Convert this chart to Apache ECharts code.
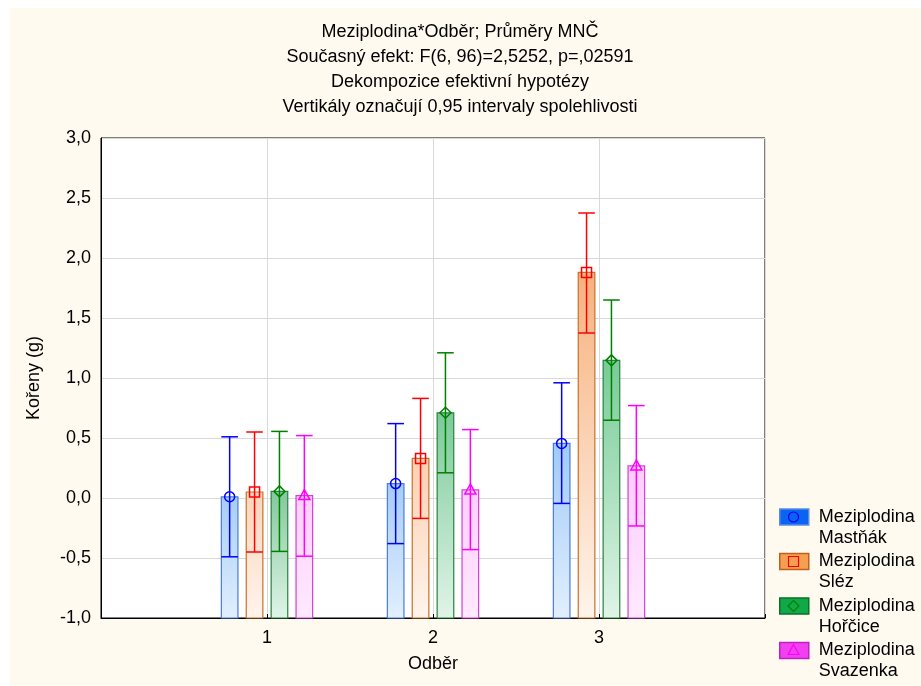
<!DOCTYPE html>
<html>
<head>
    <meta charset="utf-8">
    <title>Meziplodina*Odběr</title>
    <script src="https://cdn.jsdelivr.net/npm/echarts@6/dist/echarts.min.js"></script>
    <style>
        html, body {margin: 0; background: #ffffff;}
        #chart {position: absolute; left: 10px; top: 8px; width: 911px; height: 678px; background: #fffaf0;}
    </style>
</head>
<body>
<div id="chart"></div>
<script>
    // odběr 1..3, osa x jde od 0 do 4
    var odbery = [1, 2, 3];
    var xTickLabels = ['', '1', '2', '3', ''];
    var yTickLabels = ['-1,0', '-0,5', '0,0', '0,5', '1,0', '1,5', '2,0', '2,5', '3,0'];

    var seriesNames = ['Meziplodina\nMastňák', 'Meziplodina\nSléz', 'Meziplodina\nHořčice', 'Meziplodina\nSvazenka'];

    // průměry a meze 0,95 intervalu spolehlivosti
    var mastnakMean = [0.01, 0.12, 0.455];
    var mastnakLow = [-0.49, -0.38, -0.045];
    var mastnakHigh = [0.51, 0.62, 0.96];

    var slezMean = [0.05, 0.33, 1.88];
    var slezLow = [-0.45, -0.17, 1.375];
    var slezHigh = [0.55, 0.83, 2.375];

    var horciceMean = [0.055, 0.71, 1.147];
    var horciceLow = [-0.445, 0.21, 0.648];
    var horciceHigh = [0.555, 1.21, 1.65];

    var svazenkaMean = [0.02, 0.067, 0.267];
    var svazenkaLow = [-0.485, -0.43, -0.233];
    var svazenkaHigh = [0.52, 0.57, 0.77];

    var means = [mastnakMean, slezMean, horciceMean, svazenkaMean];
    var lows = [mastnakLow, slezLow, horciceLow, svazenkaLow];
    var highs = [mastnakHigh, slezHigh, horciceHigh, svazenkaHigh];

    // topLow = barva vršku sloupce při výšce 0, topHigh při výšce 2
    var styles = [
        {offset: -0.225, line: '#0000ff', border: '#4a7cd8', topLow: [166, 205, 247], topHigh: [146, 194, 248], bottom: '#e2efff', legend: '#0a64f0', legendBorder: '#5a8ae8', marker: 'circle'},
        {offset: -0.075, line: '#ff0000', border: '#c8702c', topLow: [252, 214, 188], topHigh: [246, 176, 122], bottom: '#fff4ec', legend: '#f4a050', legendBorder: '#c0601c', marker: 'square'},
        {offset: 0.075, line: '#008000', border: '#2a8040', topLow: [132, 200, 156], topHigh: [108, 207, 144], bottom: '#e0f4e8', legend: '#10a848', legendBorder: '#0a7026', marker: 'diamond'},
        {offset: 0.225, line: '#ff00ff', border: '#d040d0', topLow: [255, 206, 255], topHigh: [255, 192, 255], bottom: '#ffeaff', legend: '#f040f0', legendBorder: '#c020c0', marker: 'triangle'}
    ];
    var barW = 0.1;
    var fontFamily = 'Arial, "Liberation Sans", sans-serif';

    function mix(a, b, t) {
        t = Math.max(0, Math.min(1, t));
        return 'rgb(' + [0, 1, 2].map(function (i) { return Math.round(a[i] + (b[i] - a[i]) * t); }).join(',') + ')';
    }

    function markerShape(kind, cx, cy, color) {
        var st = {fill: 'none', stroke: color, lineWidth: 1.5};
        if (kind === 'circle') {
            return {type: 'circle', shape: {cx: cx, cy: cy, r: 5}, style: st};
        }
        if (kind === 'square') {
            return {type: 'rect', shape: {x: cx - 5, y: cy - 5, width: 10, height: 10}, style: st};
        }
        if (kind === 'diamond') {
            return {type: 'polygon', shape: {points: [[cx, cy - 5.5], [cx + 5.5, cy], [cx, cy + 5.5], [cx - 5.5, cy]]}, style: st};
        }
        return {type: 'polygon', shape: {points: [[cx, cy - 6], [cx + 5.5, cy + 4], [cx - 5.5, cy + 4]]}, style: st};
    }

    function renderItem(params, api) {
        var s = styles[params.seriesIndex];
        var x = api.value(0) + s.offset;
        var mean = api.value(1);
        var top = api.coord([x, mean]);
        var base = api.coord([x, -1]);
        var lo = api.coord([x, api.value(2)]);
        var hi = api.coord([x, api.value(3)]);
        var w = api.size([barW, 0])[0];
        var cx = top[0];
        var grad = new echarts.graphic.LinearGradient(0, 0, 0, 1, [
            {offset: 0, color: mix(s.topLow, s.topHigh, mean / 2)},
            {offset: 1, color: s.bottom}
        ]);
        var lineSt = {stroke: s.line, lineWidth: 1.5};
        return {
            type: 'group',
            children: [
                {type: 'rect', shape: {x: cx - w / 2, y: top[1], width: w, height: base[1] - top[1]},
                    style: {fill: grad, stroke: s.border, lineWidth: 1.2}},
                {type: 'line', shape: {x1: cx, y1: lo[1], x2: cx, y2: hi[1]}, style: lineSt},
                {type: 'line', shape: {x1: cx - w / 2, y1: hi[1], x2: cx + w / 2, y2: hi[1]}, style: lineSt},
                {type: 'line', shape: {x1: cx - w / 2, y1: lo[1], x2: cx + w / 2, y2: lo[1]}, style: lineSt},
                markerShape(s.marker, cx, top[1], s.line)
            ]
        };
    }

    var series = [];
    for (var i = 0; i < seriesNames.length; i++) {
        var data = [];
        for (var j = 0; j < odbery.length; j++) {
            data.push([odbery[j], means[i][j], lows[i][j], highs[i][j]]);
        }
        series.push({
            name: seriesNames[i],
            type: 'custom',
            renderItem: renderItem,
            itemStyle: {color: styles[i].legend},
            encode: {x: 0, y: [1, 2, 3]},
            data: data
        });
    }

    // legenda: ikona + symbol uvnitř
    var legendLeft = 769, legendIconTop = 501, legendStep = 44.5;
    var legendData = [];
    var legendSymbols = [];
    for (var k = 0; k < seriesNames.length; k++) {
        legendData.push({
            name: seriesNames[k],
            icon: 'rect',
            itemStyle: {color: styles[k].legend, borderColor: styles[k].legendBorder, borderWidth: 1.5}
        });
        var sym = markerShape(styles[k].marker, legendLeft + 14.5, legendIconTop + 8 + k * legendStep, styles[k].line);
        sym.z = 100;
        sym.style.lineWidth = 1.2;
        legendSymbols.push(sym);
    }

    var chart = echarts.init(document.getElementById('chart'));
    chart.setOption({
        animation: false,
        textStyle: {fontFamily: fontFamily},
        title: {
            text: 'Meziplodina*Odběr; Průměry MNČ\nSoučasný efekt: F(6, 96)=2,5252, p=,02591\nDekompozice efektivní hypotézy\nVertikály označují 0,95 intervaly spolehlivosti',
            left: 450,
            top: 12,
            padding: 0,
            textAlign: 'center',
            textStyle: {fontSize: 18, fontWeight: 'normal', lineHeight: 25, color: '#000', fontFamily: fontFamily}
        },
        legend: {
            orient: 'vertical',
            left: legendLeft,
            top: legendIconTop - 23.5,
            padding: 0,
            itemWidth: 29,
            itemHeight: 16,
            itemGap: -18.5,
            selectedMode: false,
            data: legendData,
            formatter: function (name) { return '\n' + name; },
            textStyle: {fontSize: 18, lineHeight: 21, color: '#000', padding: [0, 0, 0, 5], fontFamily: fontFamily}
        },
        graphic: legendSymbols,
        grid: {
            left: 91, top: 130, right: 156, bottom: 68,
            show: true, backgroundColor: '#ffffff', borderColor: '#000', borderWidth: 1
        },
        xAxis: {
            type: 'value',
            min: 0, max: 4, interval: 1,
            name: 'Odběr',
            nameLocation: 'middle',
            nameGap: 37,
            nameTextStyle: {fontSize: 18, color: '#000'},
            axisLine: {onZero: false, lineStyle: {color: '#000'}},
            axisTick: {inside: true, length: 4, lineStyle: {color: '#000'}},
            axisLabel: {
                fontSize: 18, color: '#000', margin: 11,
                formatter: function (v) { return xTickLabels[v] || ''; }
            },
            splitLine: {lineStyle: {color: '#d9d9d9'}}
        },
        yAxis: {
            type: 'value',
            min: -1, max: 3, interval: 0.5,
            name: 'Kořeny (g)',
            nameLocation: 'middle',
            nameGap: 58,
            nameTextStyle: {fontSize: 18, color: '#000'},
            axisLine: {show: true, lineStyle: {color: '#000'}},
            axisTick: {show: false},
            axisLabel: {
                fontSize: 18, color: '#000', margin: 10,
                formatter: function (v) { return yTickLabels[Math.round((v + 1) * 2)]; }
            },
            splitLine: {lineStyle: {color: '#d9d9d9'}}
        },
        series: series
    });
</script>
</body>
</html>
